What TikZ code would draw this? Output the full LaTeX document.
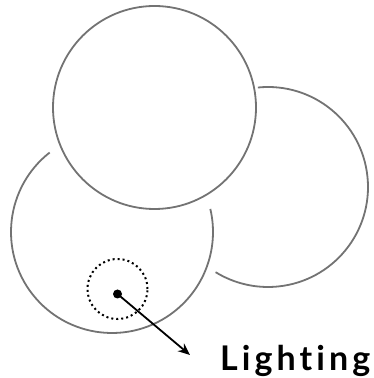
\documentclass[tikz,border=0pt]{standalone}
\usepackage{fontspec}
\setsansfont{Lato}
\usetikzlibrary{arrows.meta}

\begin{document}
\begin{tikzpicture}[x=1pt, y=1pt,
        rim/.style={draw=black!55, line width=1.8pt},
        spot/.style={draw=black, line width=2pt, dash pattern=on 2pt off 3pt},
        every node/.style={font=\sffamily\bfseries}]
        \useasboundingbox (0,0) rectangle (374,378);

        % Circles (back to front, the hidden parts left out)
        \draw[rim] (268,191) ++(95.8:100) arc[start angle=95.8, end angle=-121.6, radius=100];
        \draw[rim] (112,146) ++(128.1:101) arc[start angle=128.1, end angle=373.2, radius=101];
        \draw[rim] (154.5,270.5) circle[radius=101.5];

        % Light spot
        \draw[spot] (117.5,89) circle[radius=30];
        \node[circle, fill=black, inner sep=0pt, minimum size=9pt] (lamp) at (117.5,84) {};
        \coordinate (tip) at (190,23);
        \node[anchor=base west, inner sep=0pt, font=\fontsize{34}{40}\selectfont\sffamily\bfseries\addfontfeatures{LetterSpace=12, Ligatures=NoCommon}] (light) at (220,8) {Lighting};

        \draw[-{Stealth[length=12pt, width=10pt]}, line width=1.8pt] (lamp.center) -- (tip);
    \end{tikzpicture}
\end{document}
